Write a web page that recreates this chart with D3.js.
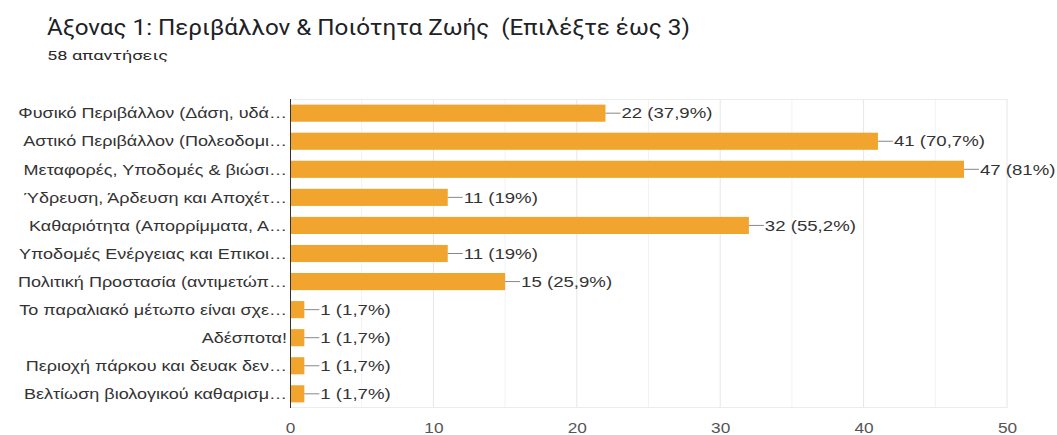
<!DOCTYPE html>
<html>
<head>
<meta charset="utf-8">
<script src="https://cdn.jsdelivr.net/npm/d3@7"></script>
<style>
  body { margin: 0; background: #fff; }
  svg { display: block; }
</style>
</head>
<body>
<svg id="chart" width="1057" height="435"></svg>
<script>
var title = "Άξονας 1: Περιβάλλον & Ποιότητα Ζωής  (Επιλέξτε έως 3)";
var subtitle = "58 απαντήσεις";
var categories = [
    "Φυσικό Περιβάλλον (Δάση, υδά…",
    "Αστικό Περιβάλλον (Πολεοδομι…",
    "Μεταφορές, Υποδομές & βιώσι…",
    "Ύδρευση, Άρδευση και Αποχέτ…",
    "Καθαριότητα (Απορρίμματα, Α…",
    "Υποδομές Ενέργειας και Επικοι…",
    "Πολιτική Προστασία (αντιμετώπ…",
    "Το παραλιακό μέτωπο είναι σχε…",
    "Αδέσποτα!",
    "Περιοχή πάρκου και δευακ δεν…",
    "Βελτίωση βιολογικού καθαρισμ…"
];
var counts = [22, 41, 47, 11, 32, 11, 15, 1, 1, 1, 1];
var percents = ["37,9%", "70,7%", "81%", "19%", "55,2%", "19%", "25,9%", "1,7%", "1,7%", "1,7%", "1,7%"];
var xTicks = [0, 10, 20, 30, 40, 50];

var sans = "'Liberation Sans', Arial, sans-serif";
var roboto = "Roboto, 'Noto Sans', sans-serif";

// the reference text is a little wider than the installed fonts, stretch it
function stretch( sel, k ) {
    sel.each( function () {
        var w = this.getComputedTextLength();
        this.setAttribute( "textLength", w * k );
        this.setAttribute( "lengthAdjust", "spacingAndGlyphs" );
    });
}

var svg = d3.select( "#chart" );
var margin = { left: 290, top: 99, right: 50, bottom: 27 };
var width = 1057 - margin.left - margin.right;
var height = 435 - margin.top - margin.bottom;

svg.append( "text" )
    .attr( "x", 47 ).attr( "y", 35 )
    .attr( "font-family", roboto )
    .attr( "font-size", 22 )
    .attr( "fill", "#202124" )
    .style( "white-space", "pre" )
    .text( title )
    .call( stretch, 1.1 );

svg.append( "text" )
    .attr( "x", 47 ).attr( "y", 60 )
    .attr( "font-family", roboto )
    .attr( "font-size", 13.5 )
    .attr( "fill", "#2a2a2a" )
    .text( subtitle )
    .call( stretch, 1.35 );

var g = svg.append( "g" )
    .attr( "transform", "translate(" + margin.left + "," + margin.top + ")" );

var x = d3.scaleLinear().domain( [ 0, 50 ] ).range( [ 0, width ] );
var y = d3.scaleBand().domain( categories ).range( [ 0, height ] ).paddingInner( 0.39 ).paddingOuter( 0.2 );

// gridlines every 5
g.append( "g" )
    .selectAll( "line" )
    .data( d3.range( 5, 51, 5 ) )
    .enter().append( "line" )
    .attr( "x1", function ( d ) { return x( d ) } )
    .attr( "x2", function ( d ) { return x( d ) } )
    .attr( "y1", 0 ).attr( "y2", height )
    .attr( "stroke", function ( d ) { return d % 10 ? "#f2f2f2" : "#e6e6e6" } );

g.append( "line" )
    .attr( "x1", 0 ).attr( "x2", width )
    .attr( "y1", 0.5 ).attr( "y2", 0.5 )
    .attr( "stroke", "#ececec" );
g.append( "line" )
    .attr( "x1", 0 ).attr( "x2", width )
    .attr( "y1", height - 0.5 ).attr( "y2", height - 0.5 )
    .attr( "stroke", "#ececec" );

// bars
var rows = g.selectAll( "g.row" )
    .data( categories )
    .enter().append( "g" )
    .attr( "class", "row" );

rows.append( "rect" )
    .attr( "x", 0 )
    .attr( "y", function ( d ) { return y( d ) } )
    .attr( "width", function ( d, i ) { return x( counts[ i ] ) } )
    .attr( "height", y.bandwidth() )
    .attr( "fill", "#f1a42e" );

rows.append( "line" )
    .attr( "x1", function ( d, i ) { return x( counts[ i ] ) } )
    .attr( "x2", function ( d, i ) { return x( counts[ i ] ) + 15 } )
    .attr( "y1", function ( d ) { return y( d ) + y.bandwidth() / 2 } )
    .attr( "y2", function ( d ) { return y( d ) + y.bandwidth() / 2 } )
    .attr( "stroke", "#888" );

rows.append( "text" )
    .attr( "x", function ( d, i ) { return x( counts[ i ] ) + 16 } )
    .attr( "y", function ( d ) { return y( d ) + y.bandwidth() / 2 } )
    .attr( "dy", "0.35em" )
    .attr( "font-family", sans )
    .attr( "font-size", 15 )
    .attr( "fill", "#333" )
    .text( function ( d, i ) { return counts[ i ] + " (" + percents[ i ] + ")" } )
    .call( stretch, 1.24 );

// category labels
g.append( "g" )
    .selectAll( "text" )
    .data( categories )
    .enter().append( "text" )
    .attr( "x", -3 )
    .attr( "y", function ( d ) { return y( d ) + y.bandwidth() / 2 } )
    .attr( "dy", "0.35em" )
    .attr( "text-anchor", "end" )
    .attr( "font-family", sans )
    .attr( "font-size", 15 )
    .attr( "fill", "#333" )
    .text( function ( d ) { return d } )
    .call( stretch, 1.2 );

// baseline axis
g.append( "line" )
    .attr( "x1", 0.5 ).attr( "x2", 0.5 )
    .attr( "y1", 0 ).attr( "y2", height )
    .attr( "stroke", "#333" );

// x tick labels
var xAxis = g.append( "g" )
    .attr( "transform", "translate(0," + height + ")" )
    .call( d3.axisBottom( x ).tickValues( xTicks ).tickSize( 0 ).tickPadding( 14 ) );
xAxis.select( ".domain" ).remove();
xAxis.selectAll( "text" )
    .attr( "font-family", sans )
    .attr( "font-size", 15 )
    .attr( "fill", "#555" )
    .call( stretch, 1.15 );
</script>
</body>
</html>
